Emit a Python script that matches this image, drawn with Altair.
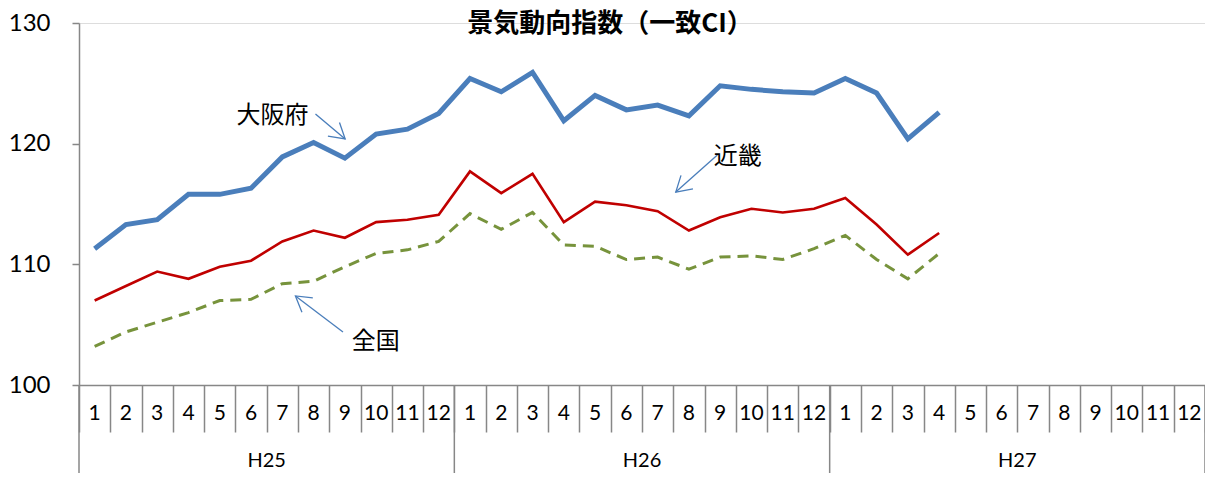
import math
import altair as alt
import pandas as pd

# ---- data ----
years = ["H25"] * 12 + ["H26"] * 12 + ["H27"] * 12
months = list(range(1, 13)) * 3
osaka = [111.3, 113.3, 113.7, 115.8, 115.8, 116.3, 118.9, 120.1, 118.8, 120.8, 121.2, 122.5,
         125.4, 124.3, 125.9, 121.9, 124.0, 122.8, 123.2, 122.3, 124.8, 124.5, 124.3, 124.2,
         125.4, 124.2, 120.4, 122.6]
kinki = [107.0, 108.2, 109.4, 108.8, 109.8, 110.3, 111.9, 112.8, 112.2, 113.5, 113.7, 114.1,
         117.7, 115.9, 117.5, 113.5, 115.2, 114.9, 114.4, 112.8, 113.9, 114.6, 114.3, 114.6,
         115.5, 113.3, 110.8, 112.6]
zenkoku = [103.2, 104.4, 105.2, 106.0, 107.0, 107.1, 108.4, 108.6, 109.8, 110.9, 111.2, 111.9,
           114.2, 112.9, 114.3, 111.6, 111.5, 110.4, 110.6, 109.6, 110.6, 110.7, 110.4, 111.3,
           112.4, 110.4, 108.8, 110.9]
series_names = ["大阪府", "近畿", "全国"]
y_ticks = [100, 110, 120, 130]
title_text = "景気動向指数（一致CI）"

# annotations (data coordinates: x = month index, y = index value)
ann_text = ["大阪府", "近畿", "全国"]
ann_tx = [5.69, 20.56, 8.99]
ann_ty = [122.3, 118.9, 103.56]
arr_x1 = [7.06, 19.91, 7.94]
arr_y1 = [122.46, 119.06, 104.39]
arr_x2 = [8.01, 18.58, 6.42]
arr_y2 = [120.39, 115.99, 107.38]

# ---- layout ----
W, H = 1126, 362
n = len(months)
pxx = W / n
pxy = H / 30.0
AXIS_GRAY = "#878787"
NUM_FONT = "Lato"
JP_FONT = "Noto Sans CJK JP"

rows = []
for name, vals in zip(series_names, [osaka, kinki, zenkoku]):
    for i, v in enumerate(vals):
        rows.append({"series": name, "i": i, "v": v})
df = pd.DataFrame(rows)

cat_df = pd.DataFrame({"i": list(range(n)), "month": [str(m) for m in months], "year": years})

# year boundaries and centers
bounds = [-0.5]
for k in range(1, n):
    if years[k] != years[k - 1]:
        bounds.append(k - 0.5)
bounds.append(n - 0.5)
yr_names = []
yr_centers = []
for k in range(len(bounds) - 1):
    yr_names.append(years[int(bounds[k] + 0.5)])
    yr_centers.append((bounds[k] + bounds[k + 1]) / 2)
bound_df = pd.DataFrame({"b": bounds})
yr_df = pd.DataFrame({"name": yr_names, "c": yr_centers})

angles = []
for a, b, c, d in zip(arr_x1, arr_y1, arr_x2, arr_y2):
    dx = (c - a) * pxx
    dy = -(d - b) * pxy
    angles.append(math.degrees(math.atan2(dx, -dy)) % 360)
ann_df = pd.DataFrame({"t": ann_text, "tx": ann_tx, "ty": ann_ty,
                       "x1": arr_x1, "y1": arr_y1, "x2": arr_x2, "y2": arr_y2, "ang": angles})

xscale = alt.Scale(domain=[-0.5, n - 0.5], nice=False, zero=False)
yscale = alt.Scale(domain=[100, 130], nice=False, zero=False)

xaxis = alt.Axis(values=[k - 0.5 for k in range(n + 1)], labels=False, title=None,
                 grid=False, ticks=True, tickSize=47, tickColor=AXIS_GRAY, domainColor=AXIS_GRAY,
                 tickWidth=1.5, domainWidth=1.5)
yaxis = alt.Axis(values=y_ticks, title=None, grid=False, ticks=True, tickSize=7, tickColor=AXIS_GRAY,
                 domainColor=AXIS_GRAY, tickWidth=1.5, domainWidth=1.5,
                 labelFont=NUM_FONT, labelFontSize=24, labelColor="#000000", labelPadding=22)


def X(field):
    return alt.X(field, scale=xscale, axis=xaxis)


def Y(field):
    return alt.Y(field, scale=yscale, axis=yaxis)


base = alt.Chart(df)
styles = {"大阪府": ("#4a7ebb", 5, None), "近畿": ("#c00000", 2.6, None), "全国": ("#77933c", 3, [11, 7])}
layers = []
for name in ["全国", "近畿", "大阪府"]:
    col, w, dash = styles[name]
    kw = dict(color=col, strokeWidth=w)
    if dash:
        kw["strokeDash"] = dash
    layers.append(base.transform_filter(alt.datum.series == name).mark_line(**kw).encode(
        x=X("i:Q"), y=Y("v:Q")))

month_labels = alt.Chart(cat_df).mark_text(font=NUM_FONT, fontSize=21, baseline="middle", color="#000000").encode(
    x=X("i:Q"), y=alt.value(H + 29), text="month:N")

year_rules = alt.Chart(bound_df).mark_rule(color=AXIS_GRAY, strokeWidth=1.5).encode(
    x=X("b:Q"), y=alt.value(H), y2=alt.value(H + 110))

year_labels = alt.Chart(yr_df).mark_text(font=NUM_FONT, fontSize=20, baseline="middle", color="#000000").encode(
    x=X("c:Q"), y=alt.value(H + 76), text="name:N")

ann_texts = alt.Chart(ann_df).mark_text(font=JP_FONT, fontSize=24, baseline="middle", color="#000000").encode(
    x=X("tx:Q"), y=Y("ty:Q"), text="t:N")

arrow_lines = alt.Chart(ann_df).mark_rule(color="#4a7ebb", strokeWidth=1.3).encode(
    x=X("x1:Q"), y=Y("y1:Q"), x2="x2:Q", y2="y2:Q")

arrow_heads = alt.Chart(ann_df).mark_point(shape="M-0.6,1L0,0L0.6,1", filled=False, stroke="#4a7ebb",
                                           strokeWidth=1.3, size=900, opacity=1).encode(
    x=X("x2:Q"), y=Y("y2:Q"), angle=alt.Angle("ang:Q", scale=None))

title = alt.Chart(pd.DataFrame({"t": [title_text]})).mark_text(
    font=JP_FONT, fontSize=26, fontWeight="bold", baseline="middle", color="#000000").encode(
    x=alt.value(531), y=alt.value(1), text="t:N")

chart = alt.layer(*layers, month_labels, year_rules, year_labels, arrow_lines, arrow_heads, ann_texts, title).properties(
    width=W, height=H,
    autosize=alt.AutoSizeParams(type="none"),
    padding={"left": 71, "top": 15, "right": 0, "bottom": 88},
).configure_view(stroke=None).configure(background="white")

chart.save("out.html", embed_options={"renderer": "svg", "actions": False})
